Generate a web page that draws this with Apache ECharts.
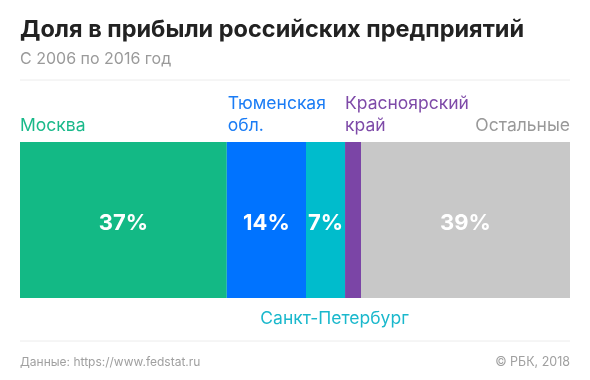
<!DOCTYPE html>
<html><head><meta charset="utf-8">
<script src="https://cdn.jsdelivr.net/npm/echarts@6/dist/echarts.min.js"></script>
<style>html,body{margin:0;padding:0;background:#fff}#c{width:590px;height:380px}</style>
</head><body><div id="c"></div>
<script>
// ---- data ----
const regions = ['Москва', 'Тюменская обл.', 'Санкт-Петербург', 'Красноярский край', 'Остальные'];
const regionLabels = ['Москва', 'Тюменская\nобл.', 'Санкт-Петербург', 'Красноярский\nкрай', 'Остальные'];
const shares = [37.6, 14.4, 7.1, 2.9, 38.0];
const shareLabels = ['37%', '14%', '7%', '', '39%'];
const category = ['Доля'];
// ---- styles ----
const barColors = ['#13b985', '#0073ff', '#00bccc', '#7b45a6', '#c8c8c8'];
const textColors = ['#19b98a', '#1a7cf5', '#1ab8cc', '#7e4aa8', '#999999'];
const FONT = 'Inter';

const chart = echarts.init(document.getElementById('c'), null, {renderer: 'canvas'});
const total = shares.reduce((a, b) => a + b, 0);
chart.setOption({
  animation: false,
  textStyle: {fontFamily: FONT},
  grid: {left: 20, right: 20, top: 142, height: 156},
  xAxis: {type: 'value', min: 0, max: total, show: false},
  yAxis: {type: 'category', data: category, show: false},
  series: regions.map((r, i) => ({
    type: 'bar', name: r, stack: 'total', barWidth: 156,
    data: [shares[i]],
    itemStyle: {color: barColors[i]},
    label: {show: shareLabels[i] !== '', position: 'inside', formatter: shareLabels[i],
      offset: [0, 3], color: '#fff', fontSize: 22, fontWeight: 'bold', fontFamily: FONT}
  }))
});

// positions of segments from axis scale
let cum = 0;
const segs = shares.map(v => {
  const x0 = chart.convertToPixel({gridIndex: 0}, [cum, 0])[0];
  cum += v;
  const x1 = chart.convertToPixel({gridIndex: 0}, [cum, 0])[0];
  return [x0, x1];
});
const barTop = 142;
const labelFont = '17.5px ' + FONT;
const topLabel = (i, x, align) => ({
  type: 'text', x: x, y: barTop - 5,
  style: {text: regionLabels[i], fill: textColors[i], font: labelFont, align: align, verticalAlign: 'bottom', lineHeight: 22}
});
chart.setOption({
  graphic: [
    {type: 'text', x: 20, y: 30, style: {text: 'Доля в прибыли российских предприятий', fill: '#222', font: 'bold 23.5px ' + FONT, verticalAlign: 'middle'}},
    {type: 'text', x: 20, y: 59, style: {text: 'С 2006 по 2016 год', fill: '#9a9a9a', font: '16px ' + FONT, verticalAlign: 'middle'}},
    {type: 'line', shape: {x1: 20, y1: 80, x2: 570, y2: 80}, style: {stroke: '#ececec', lineWidth: 1}},
    topLabel(0, segs[0][0], 'left'),
    topLabel(1, segs[1][0] + 1, 'left'),
    topLabel(3, segs[3][0], 'left'),
    topLabel(4, segs[4][1], 'right'),
    {type: 'text', x: (segs[2][0] + segs[2][1]) / 2 + 9, y: 319,
      style: {text: regionLabels[2], fill: textColors[2], font: labelFont, align: 'center', verticalAlign: 'middle'}},
    {type: 'line', shape: {x1: 20, y1: 341, x2: 570, y2: 341}, style: {stroke: '#ececec', lineWidth: 1}},
    {type: 'text', x: 20, y: 362, style: {text: 'Данные: https://www.fedstat.ru', fill: '#a0a0a0', font: '12px ' + FONT, verticalAlign: 'middle'}},
    {type: 'text', x: 570, y: 362, style: {text: '© РБК, 2018', fill: '#a0a0a0', font: '12.5px ' + FONT, align: 'right', verticalAlign: 'middle'}}
  ]
});
</script></body></html>
